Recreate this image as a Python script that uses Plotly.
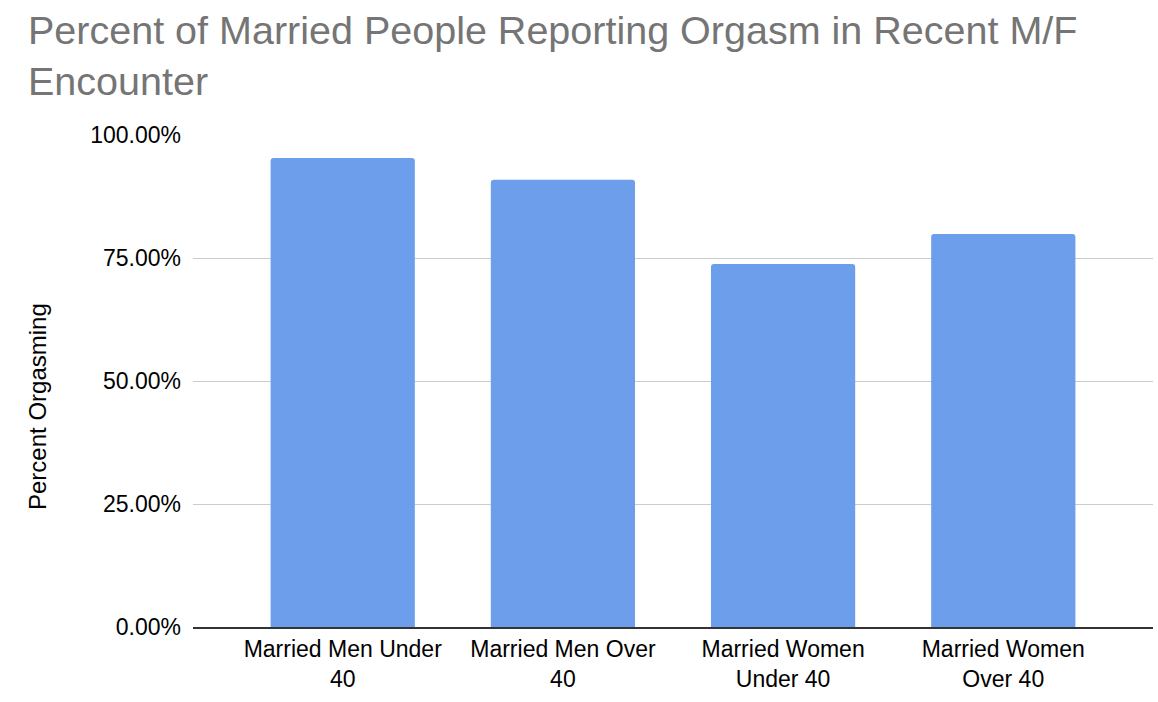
import plotly.graph_objects as go

categories = ["Married Men Under<br>40", "Married Men Over<br>40", "Married Women<br>Under 40", "Married Women<br>Over 40"]
percent_orgasming = [0.953, 0.909, 0.738, 0.799]
y_ticks = [0, 0.25, 0.5, 0.75, 1.0]
y_tick_labels = ["0.00%", "25.00%", "50.00%", "75.00%", "100.00%"]

FONT = "Arial, Liberation Sans, sans-serif"

fig = go.Figure()
fig.add_trace(go.Bar(
    x=categories,
    y=percent_orgasming,
    marker=dict(color="#6d9eeb", line=dict(width=0)),
    hoverinfo="x+y",
))

fig.update_layout(
    width=1158, height=702,
    margin=dict(l=193, r=5, t=135, b=75),
    paper_bgcolor="white", plot_bgcolor="white",
    font=dict(family=FONT, color="#000000", size=23),
    bargap=0.345,
    barcornerradius=3,
    showlegend=False,
    title=dict(
        text="Percent of Married People Reporting Orgasm in Recent M/F<br>Encounter",
        x=28/1158, xanchor="left", xref="container",
        y=1 - 44/702, yanchor="top", yref="container",
        font=dict(size=39.5, color="#757575", family=FONT),
    ),
    xaxis=dict(
        range=[-0.68, 3.68],
        showline=True, linecolor="#333333", linewidth=2,
        ticks="", showgrid=False,
        tickfont=dict(size=23, color="#000000"),
    ),
    yaxis=dict(
        range=[0, 1.0],
        tickvals=y_ticks, ticktext=y_tick_labels,
        showgrid=True, gridcolor="#cccccc", gridwidth=1,
        zeroline=False, showline=False, ticks="",
        ticklabelstandoff=11,
        tickfont=dict(size=23, color="#000000"),
    ),
    annotations=[dict(
        text="Percent Orgasming", textangle=-90,
        xref="paper", yref="paper", x=-(193 - 37) / 960, y=(627 - 407) / 492,
        xanchor="center", yanchor="middle", showarrow=False,
        font=dict(size=24, color="#000000"),
    )],
)

fig.write_html("out.html")
